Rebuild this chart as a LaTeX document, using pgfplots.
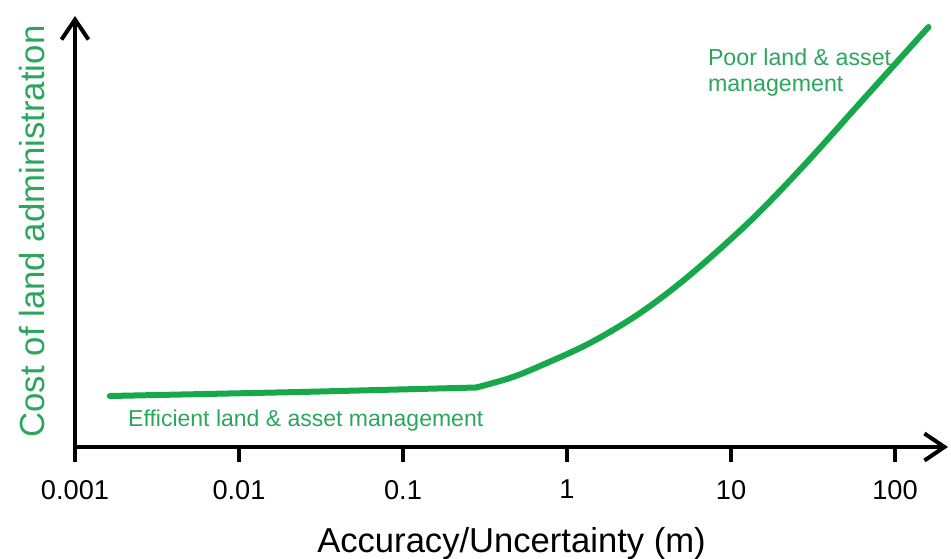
\documentclass[border=0pt]{standalone}
\usepackage{pgfplots}
\pgfplotsset{compat=1.18}
\usepackage{fontspec}
\setmainfont{Liberation Sans}
\usetikzlibrary{arrows.meta}
\definecolor{curvegreen}{RGB}{22,168,74}
\definecolor{textgreen}{RGB}{44,166,92}
\begin{document}
\begin{tikzpicture}
\useasboundingbox (-37.5pt,-55.5pt) rectangle (438pt,223.5pt);
\begin{axis}[
  scale only axis,
  width=436.5pt, height=215.5pt,
  xmode=log,
  xmin=0.001, xmax=210.4,
  ymin=0, ymax=431,
  axis lines=left,
  axis line style={line width=2pt, -{Straight Barb[length=10pt,width=13.5pt,line width=2pt]}},
  xtick={0.001,0.01,0.1,1,10,100},
  xticklabels={0.001,0.01,0.1,1,10,100},
  ytick=\empty,
  xminorticks=false,
  tick align=outside,
  major tick length=7.5pt,
  every tick/.style={black, line width=2pt},
  xtick pos=bottom,
  xticklabel style={font=\fontsize{13.6}{16}\selectfont, yshift=-5.5pt},
  xlabel={Accuracy/Uncertainty (m)},
  xlabel style={at={(axis description cs:0.5,-0.2436)}, anchor=base, font=\fontsize{17.3}{20}\selectfont},
  ylabel={Cost of land administration},
  ylabel style={at={(axis description cs:-0.0344,0.5)}, anchor=base, font=\fontsize{17.4}{20}\selectfont, text=textgreen},
  clip=false,
]
\addplot[curvegreen, line width=3pt, line join=round, line cap=round] coordinates {
(0.00163,51) (0.0235,55) (0.28,59.5)
};
\addplot[curvegreen, line width=3pt, line join=round, line cap=round, smooth, tension=0.55] coordinates {
(0.28,59.5) (0.449,69) (0.684,81) (1.38,104)
(2.79,134) (5.62,172) (13.1,226) (28,282)
(61.2,344) (160,420)
};
\node[anchor=base west, text=textgreen, font=\fontsize{11.5}{14}\selectfont, inner sep=0pt] at (axis cs:0.0021,21) {Efficient land \& asset management};
\node[anchor=base west, text=textgreen, font=\fontsize{11.6}{14}\selectfont, inner sep=0pt] at (axis cs:7.2,382) {Poor land \& asset};
\node[anchor=base west, text=textgreen, font=\fontsize{11.6}{14}\selectfont, inner sep=0pt] at (axis cs:7.2,356) {management};
\end{axis}
\end{tikzpicture}
\end{document}
